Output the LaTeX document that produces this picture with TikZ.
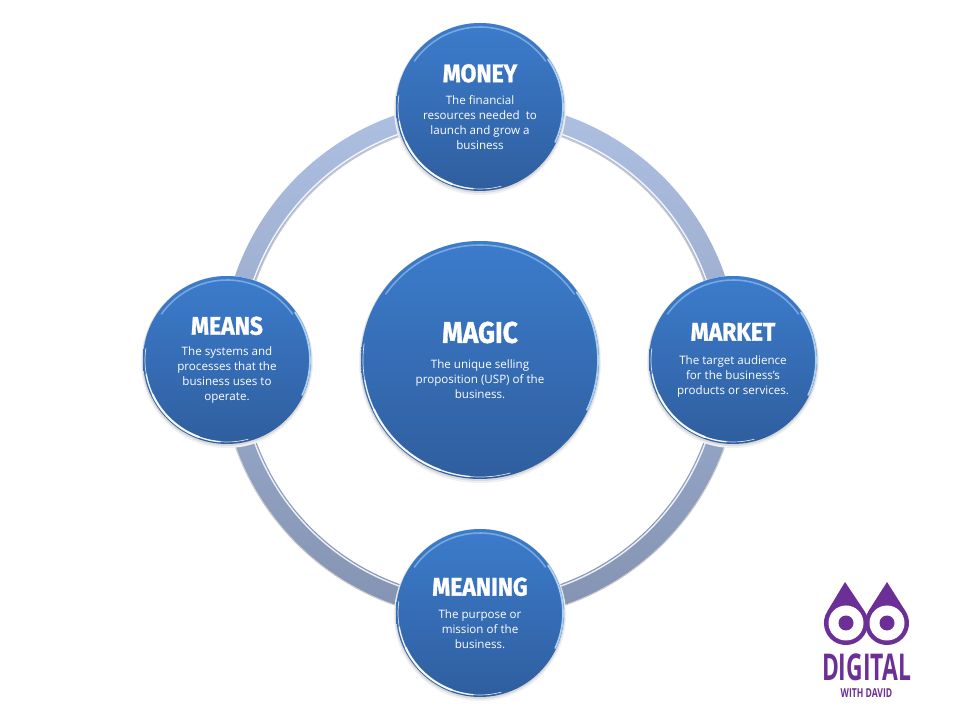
\documentclass[tikz,border=0pt]{standalone}
\usepackage{fontspec}
\setmainfont{Open Sans}
\newfontfamily\headfont[BoldFeatures={FakeBold=1.2}]{Fira Sans}
\usetikzlibrary{calc, shapes, backgrounds}
\definecolor{bubbletop}{HTML}{3C7CCC}
\definecolor{bubblebot}{HTML}{2F5E9E}
\definecolor{ringtop}{HTML}{AEC0E2}
\definecolor{ringmid}{HTML}{94A4C4}
\definecolor{ringbot}{HTML}{8493B2}
\definecolor{logopurple}{HTML}{6B2F96}
\definecolor{glow}{HTML}{A9D0F5}
\newcommand{\headsize}[1]{\scalebox{0.9}[1]{\fontsize{14.5}{16}\headfont\bfseries\selectfont #1}}
\newcommand{\bigheadsize}[1]{\scalebox{0.88}[1]{\fontsize{17}{19}\headfont\bfseries\selectfont #1}}
\newcommand{\bodysize}{\fontsize{6.6}{8.5}\selectfont}
\tikzset{
  bubble/.style={circle, minimum size=3.36cm, inner sep=0pt, align=center,
    text=white, font=\bodysize, top color=bubbletop, bottom color=bubblebot},
  bigbubble/.style={bubble, minimum size=4.76cm},
  rimglow/.style={glow, line width=0.9pt, line cap=round, opacity=0.55},
  rimbright/.style={glow, line width=1pt, line cap=round},
  rimwhite/.style={white, line cap=round, opacity=0.8}
}
\begin{document}
\begin{tikzpicture}[x=0.02cm, y=0.02cm]
          \useasboundingbox (0,0) rectangle (960,720);
          \fill[white] (0,0) rectangle (960,720);
          % ring behind the bubbles
          \shade[top color=ringtop, middle color=ringmid, bottom color=ringbot, even odd rule]
            (480,360) circle[radius=259] (480,360) circle[radius=238];
          \draw[white, line width=0.8pt, opacity=0.85] (480,360) circle[radius=240];
          \draw[gray!45, line width=0.5pt] (717.5,360) arc[start angle=0, end angle=180, radius=237.5];
          \draw[gray!45, line width=0.5pt] (739.5,360) arc[start angle=0, end angle=-180, radius=259.5];
          % soft edge under each bubble
          \foreach \cx/\cy/\rad in {480/613/84, 733/360/84, 480/107/84, 227/360/84, 480/360/119} {
            \fill[gray!12] (\cx,\cy-2) circle[radius=\rad+2];
            \fill[gray!30] (\cx,\cy-1) circle[radius=\rad+1];
          }
          \node[bubble] (money) at (480,613)
            {\headsize{MONEY}\\[4.5pt]The financial\\resources needed\ \ to\\launch and grow a\\business};
          \node[bubble] (market) at (733,360)
            {\headsize{MARKET}\\[5pt]The target audience\\for the business's\\products or services.};
          \node[bubble] (meaning) at (480,107)
            {\headsize{MEANING}\\[4.5pt]The purpose or\\mission of the\\business.};
          \node[bubble] (means) at (227,360)
            {\headsize{MEANS}\\[3.5pt]The systems and\\processes that the\\business uses to\\operate.};
          \node[bigbubble] (magic) at (480,360)
            {\bigheadsize{MAGIC}\\[6pt]The unique selling\\proposition (USP) of the\\business.};
          % rim highlights
          \foreach \name/\rad in {money/84, market/84, meaning/84, means/84, magic/119} {
            \draw[rimglow] ($(\name.center)+(145:\rad-4)$) arc[start angle=145, end angle=35, radius=\rad-4];
            \draw[rimbright] ($(\name.center)+(35:\rad-1)$) arc[start angle=35, end angle=-25, radius=\rad-1];
            \draw[rimwhite, line width=0.4pt] ($(\name.center)+(285:\rad-2)$) arc[start angle=285, end angle=172, radius=\rad-2];
            \draw[rimwhite, line width=0.8pt] ($(\name.center)+(265:\rad-2)$) arc[start angle=265, end angle=190, radius=\rad-2];
            \draw[rimwhite, line width=1.2pt] ($(\name.center)+(250:\rad-2)$) arc[start angle=250, end angle=205, radius=\rad-2];
          }
          % logo
          \fill[logopurple] (845,138) -- (827.4,108.8) arc[start angle=147.5, end angle=392.5, radius=22] -- cycle;
          \fill[logopurple] (887,138) -- (868.4,108.8) arc[start angle=147.5, end angle=392.5, radius=22] -- cycle;
          \fill[white] (846,97) circle[radius=17.5];
          \fill[white] (887,97) circle[radius=17.5];
          \fill[logopurple] (846,97) circle[radius=7.5];
          \fill[logopurple] (887,97) circle[radius=7.5];
          \node[text=logopurple, inner sep=0pt] (logoname) at (866.5,53)
            {\scalebox{0.62}[1]{\fontsize{21}{21}\selectfont\bfseries DIGITAL}};
          \node[text=logopurple, inner sep=0pt] (logosub) at (866.5,27)
            {\scalebox{0.7}[1]{\fontsize{7}{7}\selectfont\bfseries WITH DAVID}};
        \end{tikzpicture}
\end{document}
